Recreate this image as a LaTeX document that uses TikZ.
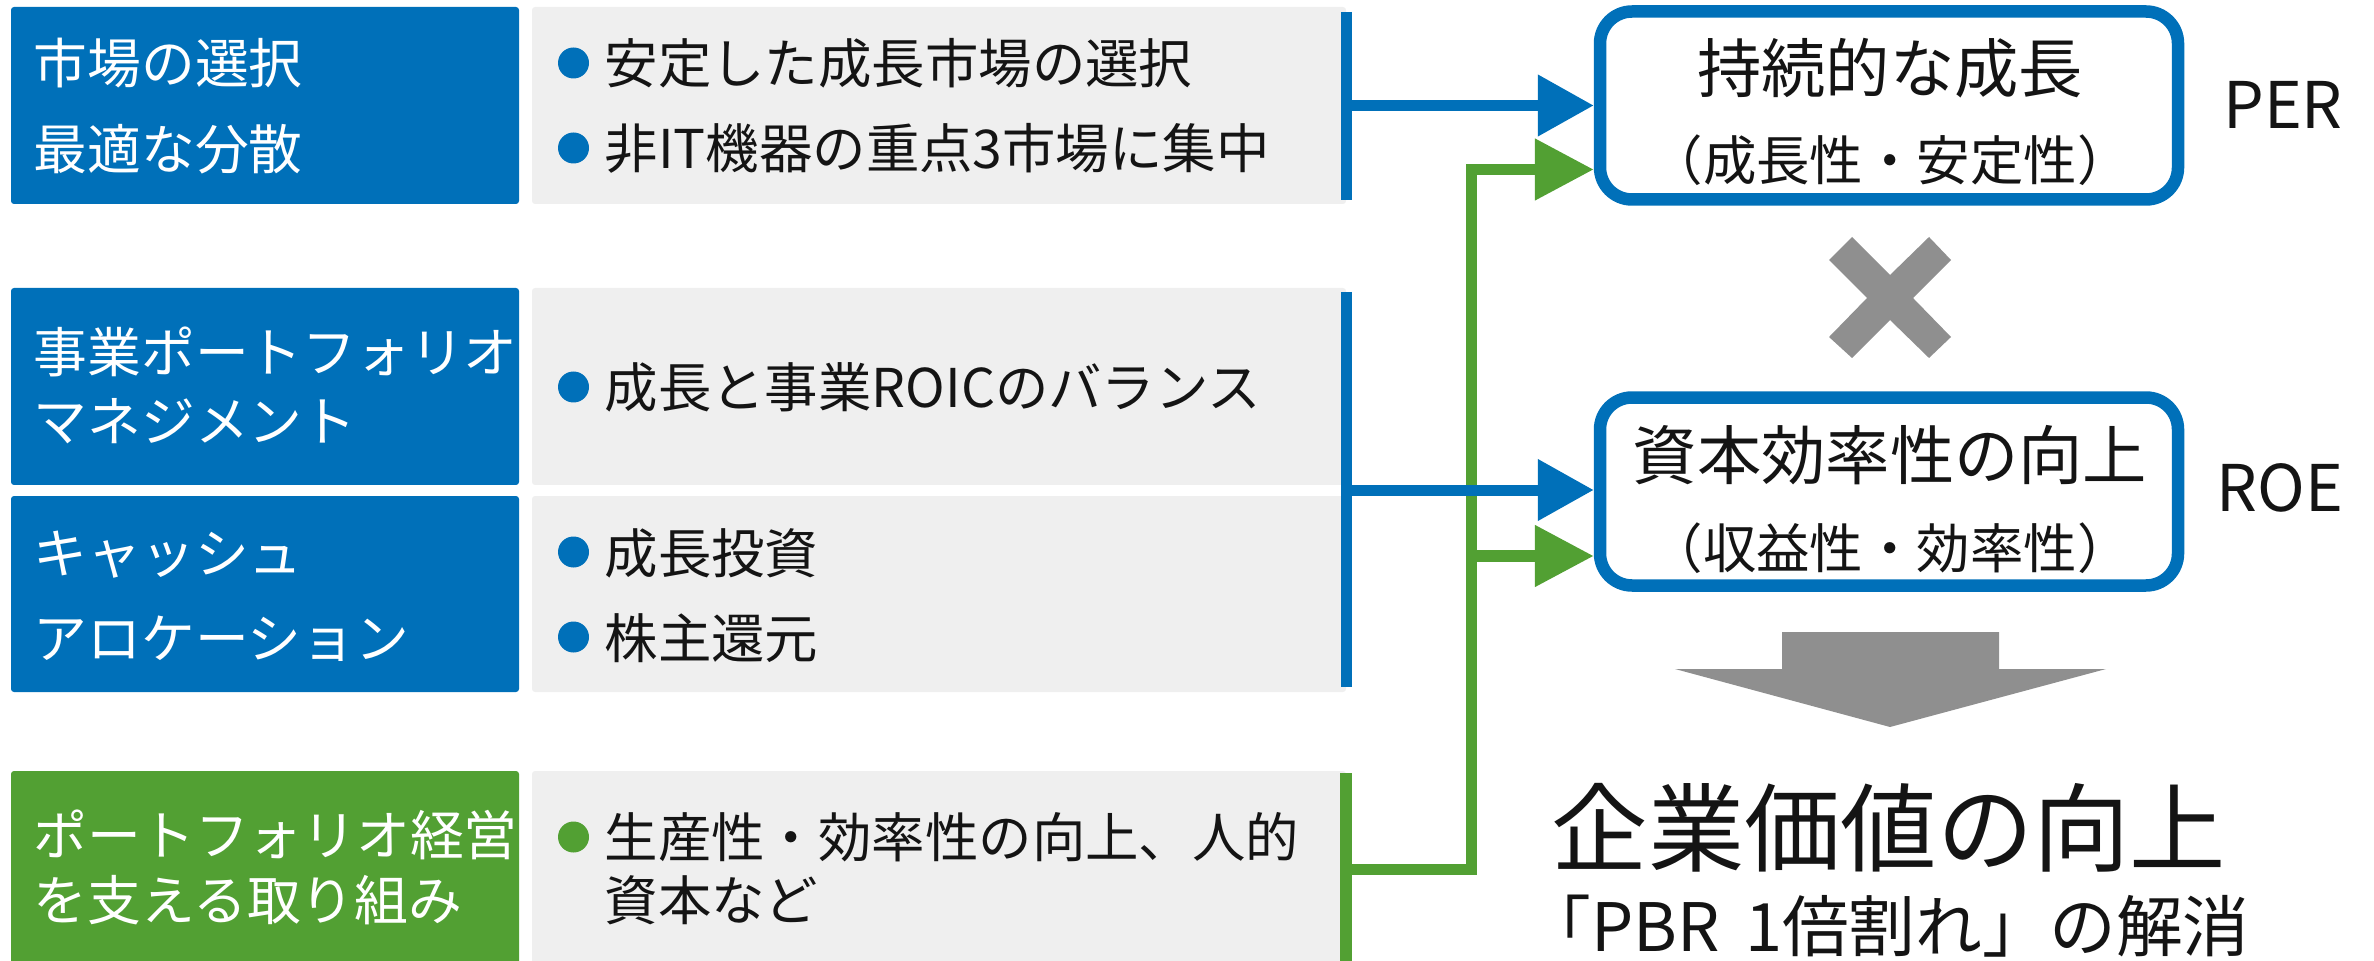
\documentclass[tikz,border=0pt]{standalone}
\usepackage{fontspec}
\setmainfont{Noto Sans CJK JP}
\usetikzlibrary{arrows.meta}
\definecolor{cblue}{HTML}{0070B9}
\definecolor{cgreen}{HTML}{52A033}
\definecolor{cgrayfill}{HTML}{EFEFEF}
\definecolor{cgrayarrow}{HTML}{8F8F8F}
\definecolor{ctext}{HTML}{141414}
\tikzset{
  lbox/.style={fill=#1, rounded corners=0.3mm, minimum width=50.8mm, minimum height=19.7mm, inner sep=0pt},
  gbox/.style={fill=cgrayfill, rounded corners=0.3mm, minimum width=81.4mm, minimum height=19.7mm, inner sep=0pt},
  lbl/.style={anchor=base west, inner sep=0pt, text=white, font=\fontsize{15.3pt}{18pt}\selectfont},
  itm/.style={anchor=base west, inner sep=0pt, text=ctext, font=\fontsize{15.2pt}{18pt}\selectfont},
  bulletdot/.style={circle, fill=#1, minimum size=3.1mm, inner sep=0pt},
  goal/.style={draw=cblue, line width=1.25mm, rounded corners=3.2mm, fill=white, minimum width=57.8mm, minimum height=18.8mm, inner sep=0pt},
  goaltitle/.style={anchor=base, inner sep=0pt, text=ctext, font=\fontsize{18.3pt}{22pt}\selectfont},
  goalsub/.style={anchor=base, inner sep=0pt, text=ctext, font=\fontsize{15.2pt}{18pt}\selectfont},
  metric/.style={anchor=base, inner sep=0pt, text=ctext, font=\fontsize{18.3pt}{22pt}\selectfont},
  bline/.style={draw=cblue, line width=1.1mm},
  gline/.style={draw=cgreen, line width=1.15mm, line join=miter},
  barrow/.style={bline, -{Triangle[length=5.6mm,width=5.9mm]}},
  garrow/.style={gline, -{Triangle[length=5.9mm,width=5.9mm]}},
}
\begin{document}
\begin{tikzpicture}[x=0.1mm, y=-0.1mm]
\useasboundingbox (0,0) rectangle (2374,961);

% left label boxes
\node[lbox=cblue] (lb1) at (265,105.5) {};
\node[lbox=cblue] (lb2) at (265,386.5) {};
\node[lbox=cblue, minimum height=19.6mm] (lb3) at (265,594) {};
\node[lbox=cgreen] (lb4) at (265,869.5) {};

% gray item boxes
\node[gbox] (gb1) at (939,105.5) {};
\node[gbox] (gb2) at (939,386.5) {};
\node[gbox, minimum height=19.6mm] (gb3) at (939,594) {};
\node[gbox] (gb4) at (939,869.5) {};

% left labels
\node[lbl] (l1a) at (33,84) {市場の選択};
\node[lbl] (l1b) at (33,169.5) {最適な分散};
\node[lbl] (l2a) at (33,373) {事業ポートフォリオ};
\node[lbl] (l2b) at (33,441) {マネジメント};
\node[lbl] (l3a) at (33,573) {キャッシュ};
\node[lbl] (l3b) at (33,658) {アロケーション};
\node[lbl] (l4a) at (33,855) {ポートフォリオ経営};
\node[lbl] (l4b) at (33,920) {を支える取り組み};

% bullets and items
\node[bulletdot=cblue] (d1) at (573.5,63) {};
\node[itm] (i1) at (604,84) {安定した成長市場の選択};
\node[bulletdot=cblue] (d2) at (573.5,148) {};
\node[itm] (i2) at (604,169) {非IT機器の重点3市場に集中};
\node[bulletdot=cblue] (d3) at (573.5,387) {};
\node[itm] (i3) at (604,408) {成長と事業ROICのバランス};
\node[bulletdot=cblue] (d4) at (573.5,552) {};
\node[itm] (i4) at (604,573) {成長投資};
\node[bulletdot=cblue] (d5) at (573.5,637) {};
\node[itm] (i5) at (604,658) {株主還元};
\node[bulletdot=cgreen] (d6) at (573.5,837) {};
\node[itm] (i6a) at (604,857) {生産性・効率性の向上、人的};
\node[itm] (i6b) at (604,920) {資本など};

% goal boxes
\node[goal] (per) at (1889,105.5) {};
\node[goal] (roe) at (1889,491.5) {};
\node[goaltitle] (pert) at (1890,93) {持続的な成長};
\node[goalsub] (pers) at (1890,181) {（成長性・安定性）};
\node[goaltitle] (roet) at (1890,479) {資本効率性の向上};
\node[goalsub] (roes) at (1890,568) {（収益性・効率性）};
\node[metric] (perl) at (2283,129) {PER};
\node[metric] (roel) at (2280,511) {ROE};

% connector coordinates
\coordinate (v1a) at (1346,12);
\coordinate (v1b) at (1346,200);
\coordinate (v2a) at (1346,292);
\coordinate (v2b) at (1346,687);
\coordinate (v2m) at (1346,490);
\coordinate (v3a) at (1346,773);
\coordinate (v3b) at (1346,975);
\coordinate (gj) at (1471.5,169.5);
\coordinate (gj2) at (1471.5,556);

% green connectors (under blue)
\draw[gline] (v3a) -- (v3b);
\draw[garrow] (gb4.east) -| (gj) -- (per.west |- gj);
\draw[garrow] (gj2) -- (roe.west |- gj2);

% blue connectors
\draw[bline] (v1a) -- (v1b);
\draw[barrow] (gb1.east) -- (per.west);
\draw[bline] (v2a) -- (v2b);
\draw[barrow] (v2m) -- (roe.west |- v2m);

% multiplication mark
\fill[cgrayarrow] (1852,237) -- (1890,275) -- (1929,237) -- (1951,260) -- (1913,298) -- (1951,337) -- (1929,358) -- (1890,320) -- (1852,358) -- (1829,337) -- (1867,298) -- (1829,260) -- cycle;

% big down arrow
\fill[cgrayarrow] (1782,632) -- (1999,632) -- (1999,669) -- (2106,669) -- (1890,727) -- (1675,669) -- (1782,669) -- cycle;

% result
\node[anchor=base, inner sep=0pt, text=ctext, font=\fontsize{27.4pt}{32pt}\selectfont] (val) at (1889,864) {企業価値の向上};
\node[anchor=base, inner sep=0pt, text=ctext, font=\fontsize{19pt}{23pt}\selectfont] (pbr) at (1887,951) {「PBR\hspace{0.38em}1倍割れ」の解消};
\end{tikzpicture}
\end{document}
